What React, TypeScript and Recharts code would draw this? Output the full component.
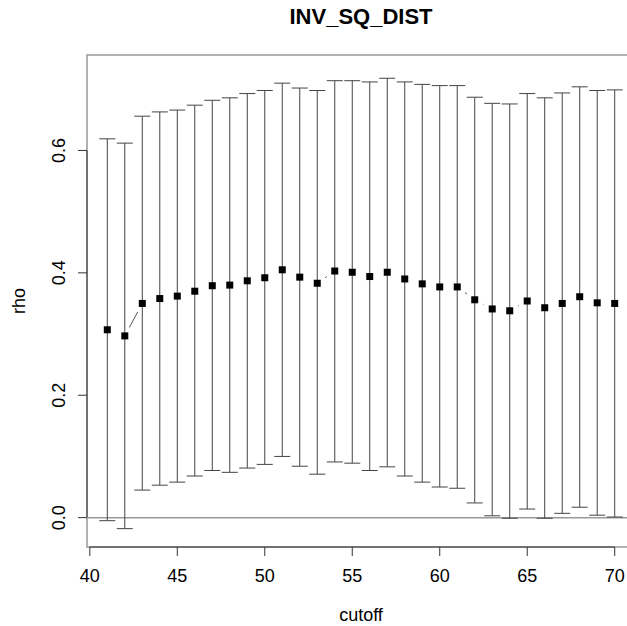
import React from "react"
import { ComposedChart, Line, ErrorBar, XAxis, YAxis, ReferenceLine, ReferenceArea } from "recharts"

// cutoff values and rho estimates with their interval bounds
const cutoff = [41, 42, 43, 44, 45, 46, 47, 48, 49, 50, 51, 52, 53, 54, 55, 56, 57, 58, 59, 60, 61, 62, 63, 64, 65, 66, 67, 68, 69, 70]
const rho = [0.307, 0.297, 0.350, 0.358, 0.362, 0.370, 0.379, 0.380, 0.387, 0.392, 0.405, 0.393, 0.383, 0.403, 0.401, 0.394, 0.401, 0.390, 0.382, 0.377, 0.377, 0.356, 0.341, 0.338, 0.354, 0.343, 0.350, 0.361, 0.351, 0.350]
const upper = [0.619, 0.612, 0.656, 0.663, 0.666, 0.674, 0.682, 0.686, 0.693, 0.698, 0.710, 0.702, 0.698, 0.714, 0.714, 0.712, 0.718, 0.712, 0.708, 0.706, 0.706, 0.687, 0.677, 0.676, 0.693, 0.686, 0.694, 0.704, 0.698, 0.699]
const lower = [-0.005, -0.018, 0.045, 0.053, 0.058, 0.068, 0.077, 0.074, 0.081, 0.087, 0.100, 0.084, 0.071, 0.091, 0.089, 0.077, 0.083, 0.068, 0.058, 0.050, 0.048, 0.024, 0.003, -0.001, 0.014, -0.001, 0.007, 0.017, 0.004, 0.001]

const xTicks = [40, 45, 50, 55, 60, 65, 70]
const yTicks = [0, 0.2, 0.4, 0.6]

const data = cutoff.map((c, i) => ({
  cutoff: c,
  rho: rho[i],
  err: [rho[i] - lower[i], upper[i] - rho[i]],
}))

const X_MIN = 39.84
const X_MAX = 71.16
const Y_MIN = -0.048
const Y_MAX = 0.756

const FONT = "'Liberation Sans', Arial, Helvetica, sans-serif"
const GAP = 9.6

// R type="b": square point, plus a line to the next point with a gap at both ends
function PointMark(props: any) {
  const { cx, cy, index, points } = props
  let seg = null
  if (points && index < points.length - 1) {
    const nx = points[index + 1].x
    const ny = points[index + 1].y
    const dx = nx - cx
    const dy = ny - cy
    const len = Math.hypot(dx, dy)
    if (len > 2 * GAP) {
      const ux = dx / len
      const uy = dy / len
      seg = (
        <line
          x1={cx + ux * GAP}
          y1={cy + uy * GAP}
          x2={nx - ux * GAP}
          y2={ny - uy * GAP}
          stroke="#555"
          strokeWidth={1}
        />
      )
    }
  }
  return (
    <g key={`pt-${index}`}>
      {seg}
      <rect x={cx - 3.5} y={cy - 3.5} width={7} height={7} fill="#000" />
    </g>
  )
}

function YTick(props: any) {
  const { x, y, payload } = props
  return (
    <text
      x={x}
      y={y}
      transform={`rotate(-90, ${x}, ${y})`}
      textAnchor="middle"
      fontSize={18}
      fontFamily={FONT}
      fill="#000"
    >
      {Number(payload.value).toFixed(1)}
    </text>
  )
}

export default function App() {
  return (
    <div style={{ position: "absolute", left: 0, top: 0, width: 627, height: 626, overflow: "hidden", background: "#fff" }}>
      <div
        style={{
          position: "absolute",
          top: 6,
          left: 87,
          width: 548,
          textAlign: "center",
          fontFamily: FONT,
          fontWeight: "bold",
          fontSize: 22,
          lineHeight: "22px",
          color: "#000",
        }}
      >
        INV_SQ_DIST
      </div>
      <ComposedChart width={640} height={626} data={data} margin={{ top: 55, right: 5, bottom: 0, left: 0 }}>
        <XAxis
          dataKey="cutoff"
          type="number"
          domain={[X_MIN, X_MAX]}
          ticks={xTicks}
          allowDataOverflow
          height={79}
          axisLine={false}
          tickSize={9}
          tickMargin={13}
          tickLine={{ stroke: "#333" }}
          tick={{ fontSize: 18, fill: "#000", fontFamily: FONT }}
          label={{
            value: "cutoff",
            content: (p: any) => {
              const vb = p.viewBox || { x: 87, y: 547, width: 548, height: 79 }
              return (
                <text x={vb.x + vb.width / 2} y={vb.y + 74} textAnchor="middle" fontSize={18} fontFamily={FONT} fill="#000">
                  cutoff
                </text>
              )
            },
          }}
        />
        <YAxis
          type="number"
          domain={[Y_MIN, Y_MAX]}
          ticks={yTicks}
          allowDataOverflow
          width={87}
          axisLine={false}
          tickSize={9}
          tickMargin={13}
          tickLine={{ stroke: "#333" }}
          tick={<YTick />}
          label={{
            value: "rho",
            content: (p: any) => {
              const vb = p.viewBox || { x: 0, y: 55, width: 87, height: 492 }
              const lx = vb.x + 25
              const ly = vb.y + vb.height / 2
              return (
                <text x={lx} y={ly} transform={`rotate(-90, ${lx}, ${ly})`} textAnchor="middle" fontSize={18} fontFamily={FONT} fill="#000">
                  rho
                </text>
              )
            },
          }}
        />
        <ReferenceArea x1={X_MIN} x2={X_MAX} y1={Y_MIN} y2={Y_MAX} fill="none" stroke="#999" strokeWidth={1.5} ifOverflow="visible" />
        <ReferenceLine segment={[{ x: 40, y: Y_MIN }, { x: 70, y: Y_MIN }]} stroke="#333" strokeWidth={1} ifOverflow="visible" />
        <ReferenceLine segment={[{ x: X_MIN, y: 0 }, { x: X_MIN, y: 0.6 }]} stroke="#333" strokeWidth={1} ifOverflow="visible" />
        <ReferenceLine y={0} stroke="#999" strokeWidth={1.5} />
        <Line
          dataKey="rho"
          stroke="none"
          isAnimationActive={false}
          activeDot={false}
          dot={(p: any) => <PointMark key={`pt-${p.index}`} {...p} />}
        >
          <ErrorBar dataKey="err" direction="y" width={8} stroke="#444" strokeWidth={1} />
        </Line>
      </ComposedChart>
    </div>
  )
}
